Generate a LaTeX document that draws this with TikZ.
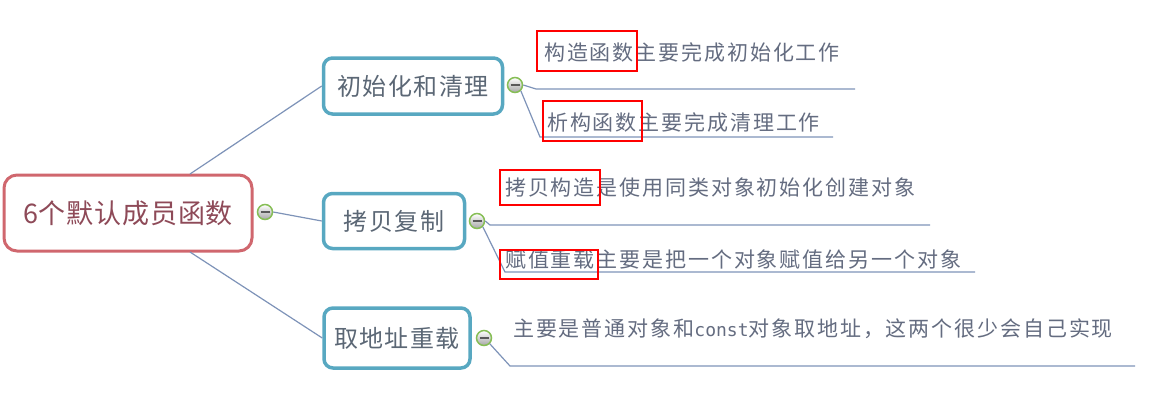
\documentclass[tikz,border=0pt]{standalone}
\usepackage{fontspec}
\newfontfamily\cjkleaf[LetterSpace=9]{Noto Sans CJK SC}
\newfontfamily\cjkbranch[LetterSpace=6]{Noto Sans CJK SC}
\newfontfamily\cjkroot[LetterSpace=3]{Noto Sans CJK SC}
\newfontfamily\monoconst{DejaVu Sans Mono}
\definecolor{rootred}{HTML}{D0676E}
\definecolor{roottext}{HTML}{8E4A58}
\definecolor{teal}{HTML}{58A8C1}
\definecolor{branchtext}{HTML}{5B6775}
\definecolor{leaftext}{HTML}{646C80}
\definecolor{conncol}{HTML}{7E93B8}
\definecolor{knobgreen}{HTML}{86BE55}
\tikzset{
  rootbox/.style={draw=rootred, line width=3pt, rounded corners=13pt, fill=white,
    minimum width=248pt, minimum height=76pt, inner sep=0pt, text=roottext,
    font=\cjkroot\fontsize{27}{30}\selectfont},
  branchbox/.style={draw=teal, line width=3.5pt, rounded corners=9pt, fill=white,
    inner sep=0pt, text=branchtext, font=\cjkbranch\fontsize{24}{28}\selectfont},
  leaf/.style={anchor=west, inner sep=0pt, text=leaftext, font=\cjkleaf\fontsize{21}{24}\selectfont},
  knob/.style={circle, draw=knobgreen, line width=1.5pt, minimum size=15pt, inner sep=0pt,
    top color=white, bottom color=black!35},
  conn/.style={draw=conncol, line width=1.2pt},
  redmark/.style={draw=red, line width=2.6pt},
}
\begin{document}
\begin{tikzpicture}[x=1pt,y=-1pt]
\useasboundingbox (0,0) rectangle (1156,402);
\node[rootbox] (c) at (128,213) {6个默认成员函数};
\node[branchbox, minimum width=179pt, minimum height=56pt] (b1) at (413,86) {初始化和清理};
\node[branchbox, minimum width=141pt, minimum height=55pt] (b2) at (394,221) {拷贝复制};
\node[branchbox, minimum width=146pt, minimum height=60pt] (b3) at (397,338) {取地址重载};

\coordinate (r1) at (190,174);
\coordinate (r3) at (190,252);
\coordinate (l1) at (855,89);
\coordinate (l2) at (833,137);
\coordinate (l3) at (930,225);
\coordinate (l4) at (975,272);
\coordinate (l5) at (1135,366);

\node[knob] (k0) at (265,212) {};
\node[knob] (k1) at (515,85) {};
\node[knob] (k2) at (477,221) {};
\node[knob] (k3) at (484,338) {};

\draw[conn] (r1) -- (b1.west);
\draw[conn] (k0.east) -- (b2.west);
\draw[conn] (r3) -- (b3.west);

\draw[conn] (k1.east) -- (536,89) -- (l1);
\draw[conn] (k1.south east) -- (540,137) -- (l2);
\draw[conn] (k2.east) -- (490,225) -- (l3);
\draw[conn] (k2.south east) -- (505,272) -- (l4);
\draw[conn] (k3.south east) -- (510,366) -- (l5);

\foreach \k in {k0,k1,k2,k3}
  \draw[line width=1.6pt, black!65] ([xshift=-4.5pt]\k.center) -- ([xshift=4.5pt]\k.center);

\node[leaf] (t1) at (544,52) {构造函数主要完成初始化工作};
\node[leaf] (t2) at (547,122) {析构函数主要完成清理工作};
\node[leaf] (t3) at (505,188) {拷贝构造是使用同类对象初始化创建对象};
\node[leaf] (t4) at (505,260) {赋值重载主要是把一个对象赋值给另一个对象};
\node[leaf] (t5) at (513,329) {主要是普通对象和{\monoconst\fontsize{18}{22}\selectfont const}对象取地址，这两个很少会自己实现};

\draw[redmark] (537,31) rectangle (637,71);
\draw[redmark] (543,101) rectangle (642,141);
\draw[redmark] (500,170) rectangle (600,205);
\draw[redmark] (500,250) rectangle (598,279);
\end{tikzpicture}
\end{document}
